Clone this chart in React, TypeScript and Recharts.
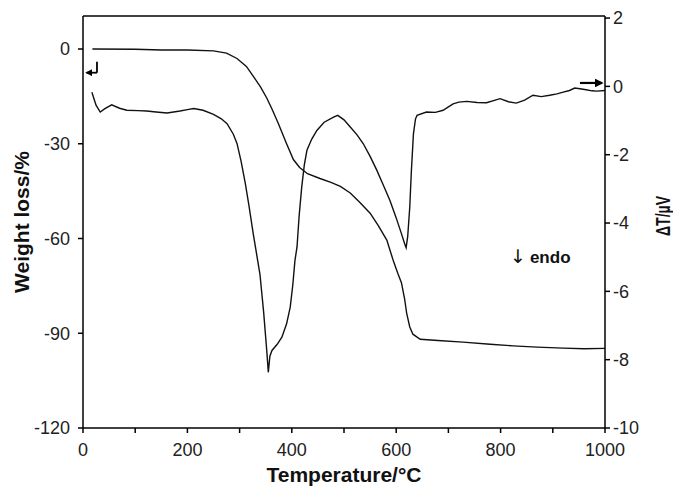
import { LineChart, Line, XAxis, YAxis, ReferenceLine, ReferenceDot, Label } from "recharts"

// TG curve (weight loss, left axis)
const tgTemp = [18, 100, 150, 200, 250, 275, 295, 313, 327, 340, 352, 362, 374, 390, 403, 415, 430, 454, 475, 493, 512, 530, 550, 566, 582, 594, 603, 610, 616, 620, 626, 632, 646, 680, 728, 780, 824, 870, 920, 960, 1000]
const tgWeight = [0, -0.1, -0.3, -0.3, -0.6, -1.3, -3.0, -5.5, -8.8, -12, -15.5, -19, -23.5, -30, -35, -37.5, -39.5, -41, -42.2, -43.5, -45.6, -48.5, -52, -56, -60.5, -66.8, -71, -74, -79, -83.6, -88, -90.3, -91.9, -92.3, -92.8, -93.5, -94, -94.4, -94.7, -94.9, -94.8]

// DTA curve (deltaT, right axis)
const dtaTemp = [17, 25, 33, 42, 55, 70, 84, 105, 122, 140, 161, 186, 200, 212, 230, 250, 265, 276, 288, 295, 303, 311, 318, 326, 333, 339, 346, 352, 355, 358, 362, 372, 381, 390, 397, 402, 406, 410, 414, 419, 424, 429, 438, 448, 462, 480, 488, 500, 512, 525, 537, 550, 563, 575, 588, 600, 610, 616, 619, 622, 626, 629, 633, 637, 640, 658, 675, 690, 700, 709, 720, 735, 755, 773, 788, 799, 815, 830, 846, 862, 878, 894, 908, 920, 932, 942, 952, 964, 975, 984, 1000]
const dtaDelta = [-0.17, -0.55, -0.75, -0.65, -0.54, -0.64, -0.7, -0.71, -0.72, -0.75, -0.78, -0.72, -0.68, -0.65, -0.7, -0.82, -0.95, -1.09, -1.4, -1.67, -2.2, -2.85, -3.5, -4.3, -4.95, -5.5, -6.6, -7.73, -8.37, -7.9, -7.73, -7.55, -7.34, -6.95, -6.46, -5.8, -5.1, -4.7, -3.8, -2.95, -2.3, -1.87, -1.55, -1.29, -1.05, -0.9, -0.85, -0.98, -1.19, -1.42, -1.68, -2.05, -2.46, -2.88, -3.34, -3.85, -4.31, -4.6, -4.72, -4.4, -3.53, -2.5, -1.39, -0.95, -0.85, -0.75, -0.76, -0.7, -0.6, -0.51, -0.46, -0.44, -0.47, -0.48, -0.41, -0.36, -0.45, -0.49, -0.4, -0.26, -0.3, -0.26, -0.22, -0.17, -0.12, -0.05, -0.07, -0.1, -0.13, -0.14, -0.12]

const xTicks = [0, 100, 200, 300, 400, 500, 600, 700, 800, 900, 1000]
const leftTicks = [-120, -90, -60, -30, 0]
const rightTicks = [-10, -8, -6, -4, -2, 0, 2]
const leftTop = 10.45
const rightTop = 2.06

const tgData = tgTemp.map((t, i) => ({ t, w: tgWeight[i] }))
const dtaData = dtaTemp.map((t, i) => ({ t, d: dtaDelta[i] }))

const font = "'Liberation Sans', Arial, sans-serif"
const tickStyle = { fontSize: 18, fill: "#222", fontFamily: font }

function VerticalTitle({ viewBox, text, dx, dy = 0, length, size = 21 }: any) {
  const x = viewBox.x + dx
  const y = viewBox.y + viewBox.height / 2 + dy
  return (
    <text
      x={x}
      y={y}
      transform={`rotate(-90 ${x} ${y})`}
      textAnchor="middle"
      fontSize={size}
      fontWeight="bold"
      fontFamily={font}
      fill="#111"
      {...(length ? { textLength: length, lengthAdjust: "spacingAndGlyphs" } : {})}
    >
      {text}
    </text>
  )
}

export default function App() {
  return (
    <div style={{ position: "absolute", left: 0, top: 0, background: "#fff" }}>
      <LineChart
        width={673}
        height={487}
        margin={{ top: 16, right: 0, left: 0, bottom: 0 }}
        style={{ fontFamily: font }}
      >
        <defs>
          <marker id="ah" viewBox="0 0 10 10" refX="8" refY="5" markerWidth="4" markerHeight="4" orient="auto">
            <path d="M0,0 L10,5 L0,10 z" fill="#000" />
          </marker>
        </defs>
        <XAxis
          type="number"
          dataKey="t"
          domain={[0, 1000]}
          ticks={xTicks}
          tickFormatter={(v) => (v % 200 === 0 ? String(v) : "")}
          height={59}
          tickSize={5}
          tickMargin={10}
          stroke="#000"
          strokeWidth={1.5}
          tick={tickStyle}
          allowDataOverflow
        >
          <Label
            value="Temperature/°C"
            position="insideBottom"
            offset={5}
            style={{ fontSize: 21, fontWeight: "bold", fill: "#111", fontFamily: font }}
          />
        </XAxis>
        <YAxis
          yAxisId="left"
          domain={[-120, leftTop]}
          ticks={leftTicks}
          width={83}
          tickSize={5}
          tickMargin={8}
          stroke="#000"
          strokeWidth={1.5}
          tick={tickStyle}
          allowDataOverflow
          label={{ content: (p: any) => <VerticalTitle {...p} text="Weight loss/%" dx={29} /> }}
        />
        <YAxis
          yAxisId="right"
          orientation="right"
          domain={[-10, rightTop]}
          ticks={rightTicks}
          width={68}
          tickSize={5}
          tickMargin={3}
          stroke="#000"
          strokeWidth={1.5}
          tick={{ ...tickStyle, textAnchor: "start" }}
          allowDataOverflow
          label={{ content: (p: any) => <VerticalTitle {...p} text="ΔT/µV" dx={65} dy={-6} length={40} size={20} /> }}
        />
        <ReferenceLine yAxisId="left" y={leftTop} stroke="#000" strokeWidth={1.5} />
        <Line
          yAxisId="left"
          data={tgData}
          dataKey="w"
          type="linear"
          stroke="#111"
          strokeWidth={1.4}
          dot={false}
          isAnimationActive={false}
        />
        <Line
          yAxisId="right"
          data={dtaData}
          dataKey="d"
          type="linear"
          stroke="#111"
          strokeWidth={1.4}
          dot={false}
          isAnimationActive={false}
        />
        {/* baseline markers */}
        <ReferenceLine
          yAxisId="left"
          segment={[{ x: 26.8, y: -4.0 }, { x: 26.8, y: -7.5 }]}
          stroke="#000"
          strokeWidth={1.8}
          ifOverflow="visible"
        />
        <ReferenceLine
          yAxisId="left"
          segment={[{ x: 26.8, y: -7.5 }, { x: 7, y: -7.5 }]}
          stroke="#000"
          strokeWidth={1.8}
          markerEnd="url(#ah)"
          ifOverflow="visible"
        />
        <ReferenceLine
          yAxisId="right"
          segment={[{ x: 952, y: 0.1 }, { x: 994, y: 0.1 }]}
          stroke="#000"
          strokeWidth={2.2}
          markerEnd="url(#ah)"
          ifOverflow="visible"
        />
        <ReferenceDot
          yAxisId="right"
          x={818}
          y={-5.18}
          r={0}
          fill="none"
          stroke="none"
          ifOverflow="visible"
          label={{
            content: (p: any) => (
              <text x={p.viewBox.x} y={p.viewBox.y} fontSize={17} fontWeight="bold" fontFamily={font} fill="#111">
                <tspan fontFamily="'DejaVu Sans', sans-serif" fontWeight="normal" fontSize={19}>↓</tspan>
                <tspan dx={4}>endo</tspan>
              </text>
            ),
          }}
        />
      </LineChart>
    </div>
  )
}
